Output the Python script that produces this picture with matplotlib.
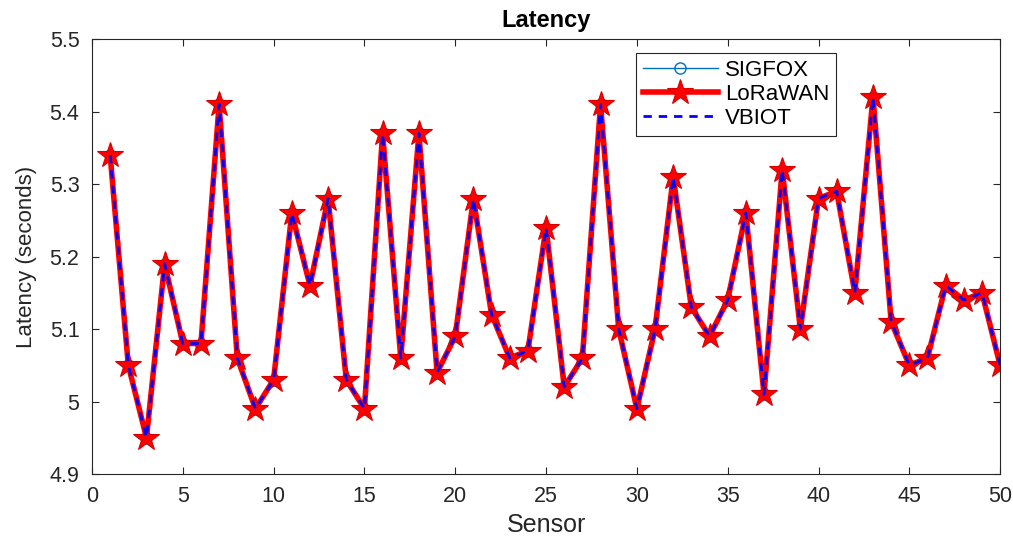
import matplotlib
matplotlib.use('Agg')
import matplotlib.pyplot as plt
import numpy as np

plt.rcParams['font.family'] = ['Liberation Sans', 'DejaVu Sans']

sensors = np.arange(1, 51)
latency = [5.34, 5.05, 4.95, 5.19, 5.08, 5.08, 5.41, 5.06, 4.99, 5.03,
           5.26, 5.16, 5.28, 5.03, 4.99, 5.37, 5.06, 5.37, 5.04, 5.09,
           5.28, 5.12, 5.06, 5.07, 5.24, 5.02, 5.06, 5.41, 5.10, 4.99,
           5.10, 5.31, 5.13, 5.09, 5.14, 5.26, 5.01, 5.32, 5.10, 5.28,
           5.29, 5.15, 5.42, 5.11, 5.05, 5.06, 5.16, 5.14, 5.15, 5.05]
sigfox = latency
lorawan = latency
vbiot = latency

fig = plt.figure(figsize=(10.13, 5.39), dpi=100)
ax = fig.add_axes([0.0908, 0.1206, 0.8965, 0.807])

ax.plot(sensors, sigfox, '-o', color=(0, 0.447, 0.741), lw=1, ms=8,
        mfc='none', label='SIGFOX')
ax.plot(sensors, lorawan, '-*', color='red', lw=4, ms=19,
        mec=(0.85, 0, 0), mew=0.8, label='LoRaWAN')
ax.plot(sensors, vbiot, '--', color='blue', lw=2, dashes=(3, 2.5),
        label='VBIOT')

ax.set_xlim(0, 50)
ax.set_ylim(4.9, 5.5)
ax.set_xticks(np.arange(0, 51, 5))
ax.set_yticks(np.arange(4.9, 5.51, 0.1))
ax.set_yticklabels(['4.9', '5', '5.1', '5.2', '5.3', '5.4', '5.5'])
ax.tick_params(direction='in', top=True, right=True, labelsize=15.5,
               length=5, width=0.8, colors='#262626')
ax.tick_params(axis='x', pad=9)
ax.tick_params(axis='y', pad=9)
for s in ax.spines.values():
    s.set_color('#262626')
    s.set_linewidth(0.8)

ax.set_title('Latency', fontsize=17, fontweight='bold', pad=9)
ax.set_xlabel('Sensor', fontsize=18, color='#262626', labelpad=4)
ax.set_ylabel('Latency (seconds)', fontsize=16, color='#262626', labelpad=9)

leg = ax.legend(loc='upper left', bbox_to_anchor=(0.599, 0.968), fontsize=16,
                handlelength=3.4, handletextpad=0.3, borderpad=0.3,
                labelspacing=0.15, borderaxespad=0, fancybox=False,
                framealpha=1, edgecolor='#262626')
leg.get_frame().set_linewidth(0.8)

fig.savefig('out.png', dpi=100)
